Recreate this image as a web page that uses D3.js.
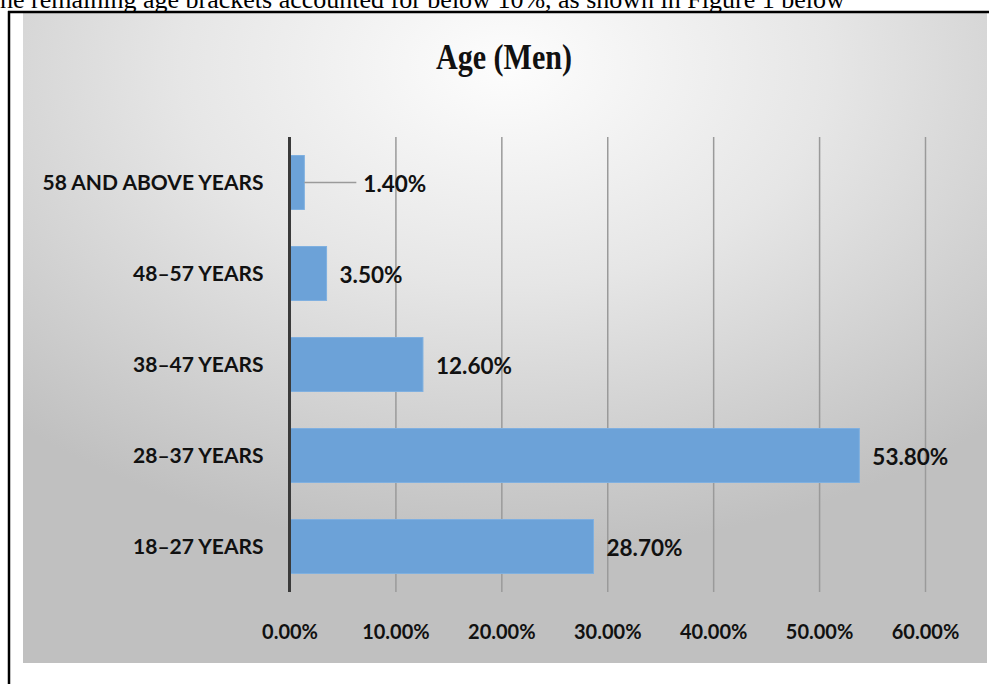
<!DOCTYPE html>
<html lang="en">
<head>
<meta charset="UTF-8">
<title>Age (Men)</title>
<script src="https://d3js.org/d3.v7.min.js"></script>
<style>
  body { margin: 0; background: #fff; }
  svg { display: block; }
  .cat text, .tick-lbl text, .val { font-family: Lato, "Open Sans", sans-serif; font-weight: 700; fill: #111; }
  .cat text { font-size: 21px; }
  .tick-lbl text { font-size: 20px; }
  .val { font-size: 22.5px; }
</style>
</head>
<body>
<div id="chart"></div>
<script>
// data
var categories = ["18\u201327 YEARS", "28\u201337 YEARS", "38\u201347 YEARS", "48\u201357 YEARS", "58 AND ABOVE YEARS"];
var values = [28.7, 53.8, 12.6, 3.5, 1.4];
var ticks = [0, 10, 20, 30, 40, 50, 60];

var W = 989, H = 684;
var plot = {left: 289.5, right: 925, top: 137, bottom: 592};

var svg = d3.select("#chart").append("svg")
    .attr("width", W)
    .attr("height", H);

var defs = svg.append("defs");
var grad = defs.append("radialGradient")
    .attr("id", "bg")
    .attr("cx", "50%").attr("cy", "8%")
    .attr("r", "75%")
    .attr("fx", "50%").attr("fy", "8%");
grad.append("stop").attr("offset", "0%").attr("stop-color", "#fdfdfd");
grad.append("stop").attr("offset", "45%").attr("stop-color", "#e6e6e6");
grad.append("stop").attr("offset", "100%").attr("stop-color", "#c0c0c0");

// line of the document text above the figure, cut by the top edge
svg.append("text")
    .attr("x", 0)
    .attr("y", 8)
    .style("font-family", "'Liberation Serif', 'Times New Roman', serif")
    .style("font-size", "26px")
    .style("fill", "#000")
    .text("he remaining age brackets accounted for below 10%, as shown in Figure 1 below");

// frame around the figure
svg.append("rect")
    .attr("x", 23).attr("y", 13)
    .attr("width", 964).attr("height", 650)
    .attr("fill", "url(#bg)");
svg.append("line")
    .attr("x1", 9).attr("x2", 9).attr("y1", 11).attr("y2", H)
    .attr("stroke", "#000").attr("stroke-width", 2.5);
svg.append("line")
    .attr("x1", 8).attr("x2", 989).attr("y1", 12).attr("y2", 12)
    .attr("stroke", "#000").attr("stroke-width", 2.5);

svg.append("text")
    .attr("transform", "translate(504,69) scale(0.86,1)")
    .attr("text-anchor", "middle")
    .style("font-family", "'Liberation Serif', 'Times New Roman', serif")
    .style("font-weight", "bold")
    .style("font-size", "35px")
    .style("fill", "#111")
    .text("Age (Men)");

var x = d3.scaleLinear()
    .domain([0, 60])
    .range([plot.left, plot.right]);

var y = d3.scaleBand()
    .domain(categories)
    .range([plot.bottom, plot.top])
    .paddingInner(0.407)
    .paddingOuter(0.2035);

// gridlines
var grid = svg.append("g")
    .attr("transform", "translate(0," + plot.bottom + ")")
    .call(d3.axisBottom(x).tickValues(ticks.slice(1)).tickSize(-(plot.bottom - plot.top)).tickFormat(""));
grid.select(".domain").remove();
grid.selectAll("line").attr("stroke", "#9a9a9a").attr("stroke-width", 1.5);

// bars
svg.selectAll("rect.bar")
    .data(values)
    .enter()
    .append("rect")
    .attr("class", "bar")
    .attr("x", x(0))
    .attr("y", function(d, i) { return y(categories[i]); })
    .attr("width", function(d) { return x(d) - x(0); })
    .attr("height", y.bandwidth())
    .attr("fill", "#6ca2d8")
    .attr("stroke", "#7fb0e0")
    .attr("stroke-width", 1);

// vertical axis line
svg.append("line")
    .attr("x1", x(0)).attr("x2", x(0))
    .attr("y1", plot.top).attr("y2", plot.bottom)
    .attr("stroke", "#3a3a3a").attr("stroke-width", 3);

// category labels
var cat = svg.append("g")
    .attr("class", "cat")
    .attr("transform", "translate(" + x(0) + ",0)")
    .call(d3.axisLeft(y).tickSize(0).tickPadding(26));
cat.select(".domain").remove();
cat.selectAll("text").attr("dy", "0.36em");

// x tick labels
var xl = svg.append("g")
    .attr("class", "tick-lbl")
    .attr("transform", "translate(0," + plot.bottom + ")")
    .call(d3.axisBottom(x).tickValues(ticks).tickSize(0).tickPadding(33)
        .tickFormat(function(d) { return d.toFixed(2) + "%"; }));
xl.select(".domain").remove();

// value labels; the smallest one is pulled out with a leader line
var leader = 52;
values.forEach(function(v, i) {
    var cy = y(categories[i]) + y.bandwidth() / 2;
    var x0 = x(v) + 13;
    if (v < 2) {
        svg.append("line")
            .attr("x1", x(v)).attr("x2", x(v) + leader)
            .attr("y1", cy).attr("y2", cy)
            .attr("stroke", "#9a9a9a").attr("stroke-width", 1.5);
        x0 = x(v) + leader + 7;
    }
    svg.append("text")
        .attr("class", "val")
        .attr("x", x0)
        .attr("y", cy)
        .attr("dy", "0.4em")
        .text(v.toFixed(2) + "%");
});
</script>
</body>
</html>
